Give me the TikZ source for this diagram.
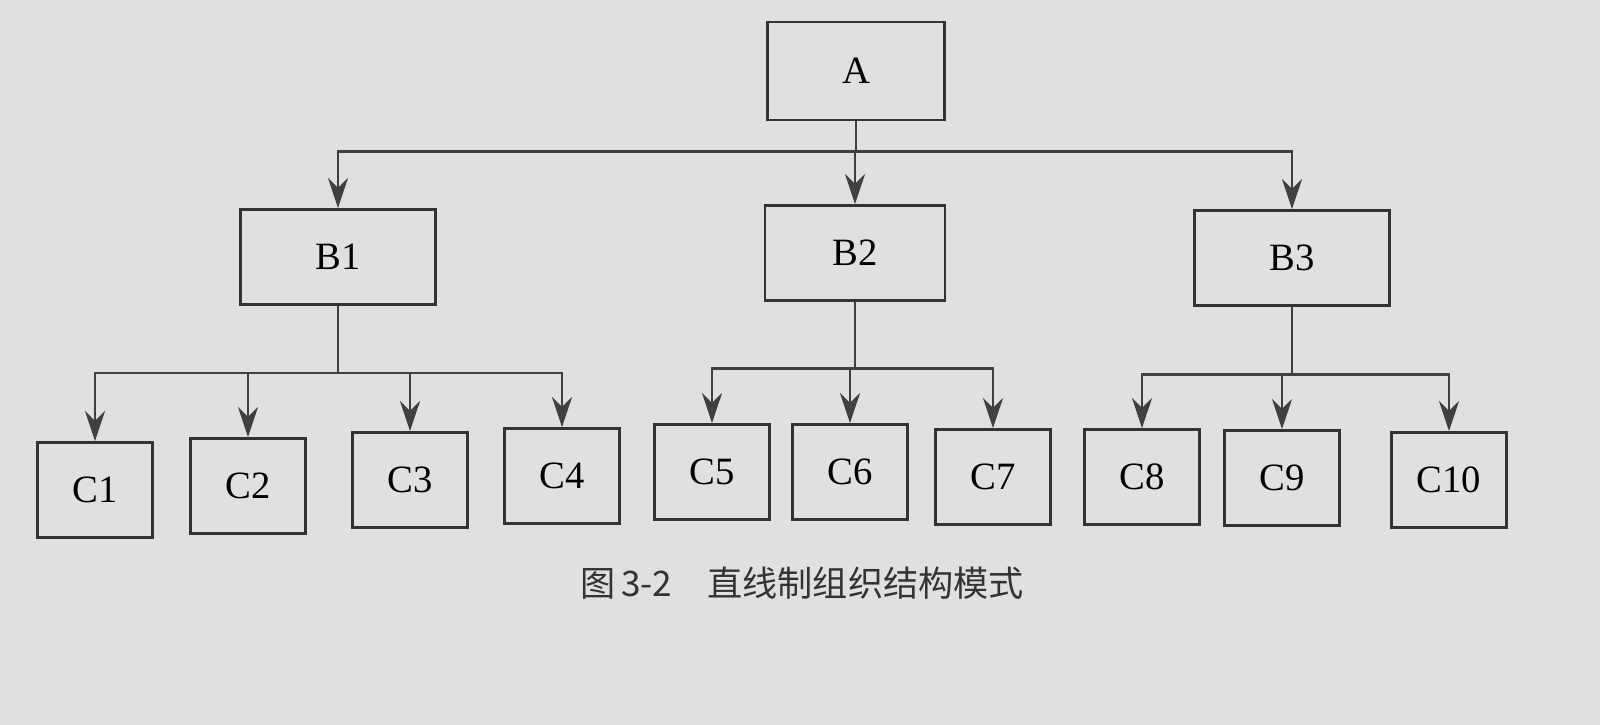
\documentclass[tikz,border=0pt]{standalone}
\usepackage{fontspec}
\setmainfont{Liberation Serif}
\newfontfamily\cjk{Noto Sans CJK SC}
\usetikzlibrary{arrows.meta}
\begin{document}
\begin{tikzpicture}[
    box/.style={draw=black!80, thick, minimum height=0.95cm, font=\fontsize{11}{13}\selectfont},
    bbox/.style={box, minimum width=1.95cm},
    cbox/.style={box, minimum width=1.15cm},
    link/.style={draw=black!75, thick, -{Stealth[length=3mm,width=2mm]}}]
	\fill[black!12] (0,0) rectangle (16,-7.25);
	\useasboundingbox (0,0) rectangle (16,-7.25);

	\node[box, minimum width=1.77cm, minimum height=0.98cm] (A) at (8.56,-0.71) {A};
	\node[bbox] (b1) at (3.38,-2.57) {B1};
	\node[bbox, minimum width=1.8cm] (b2) at (8.55,-2.53) {B2};
	\node[bbox] (b3) at (12.92,-2.58) {B3};

	\node[cbox] (c1) at (0.95,-4.90) {C1};
	\node[cbox] (c2) at (2.48,-4.86) {C2};
	\node[cbox] (c3) at (4.10,-4.80) {C3};
	\node[cbox] (c4) at (5.62,-4.76) {C4};
	\node[cbox] (c5) at (7.12,-4.72) {C5};
	\node[cbox] (c6) at (8.50,-4.72) {C6};
	\node[cbox] (c7) at (9.93,-4.77) {C7};
	\node[cbox] (c8) at (11.42,-4.77) {C8};
	\node[cbox] (c9) at (12.82,-4.78) {C9};
	\node[cbox] (c10) at (14.49,-4.80) {C10};

	\node[font=\cjk\fontsize{10}{12}\selectfont, text=black!80] (cap) at (8.02,-5.83) {图\,3-2\quad 直线制组织结构模式};

	% A to B
	\draw[thick, black!75] (A.south) -- ++(0,-0.3) coordinate (busA);
	\foreach \b in {b1,b2,b3}
		\draw[link] (busA) -| (\b.north);

	% B to C
	\draw[thick, black!75] (b1.south) -- ++(0,-0.67) coordinate (bus1);
	\foreach \c in {c1,c2,c3,c4}
		\draw[link] (bus1) -| (\c.north);
	\draw[thick, black!75] (b2.south) -- ++(0,-0.67) coordinate (bus2);
	\foreach \c in {c5,c6,c7}
		\draw[link] (bus2) -| (\c.north);
	\draw[thick, black!75] (b3.south) -- ++(0,-0.68) coordinate (bus3);
	\foreach \c in {c8,c9,c10}
		\draw[link] (bus3) -| (\c.north);
\end{tikzpicture}
\end{document}
